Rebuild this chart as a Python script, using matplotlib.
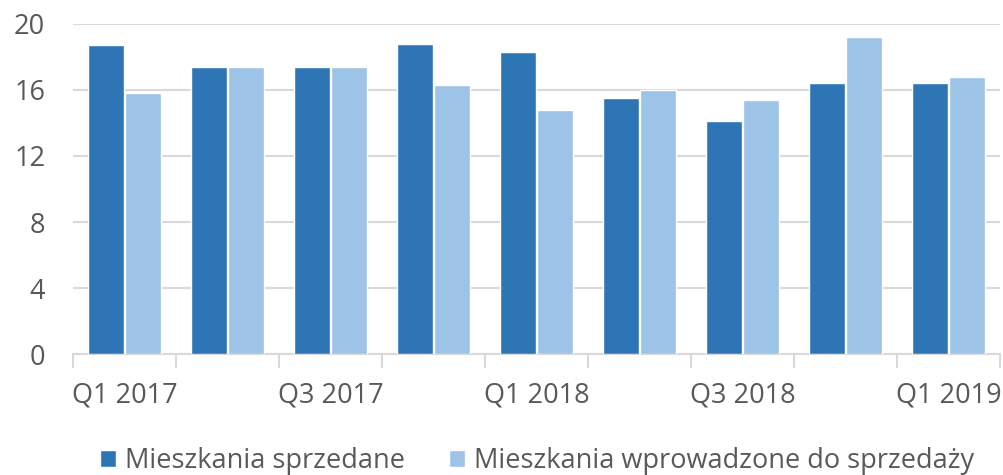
import matplotlib
matplotlib.use("Agg")
import matplotlib.pyplot as plt
import numpy as np

# quarters Q1 2017 .. Q1 2019
quarters = ["Q1 2017", "Q2 2017", "Q3 2017", "Q4 2017", "Q1 2018",
            "Q2 2018", "Q3 2018", "Q4 2018", "Q1 2019"]
sold = [18.7, 17.4, 17.4, 18.8, 18.3, 15.5, 14.1, 16.4, 16.4]
launched = [15.8, 17.4, 17.4, 16.3, 14.8, 16.0, 15.4, 19.2, 16.8]
yticks = [0, 4, 8, 12, 16, 20]

plt.rcParams['font.family'] = ['Open Sans', 'DejaVu Sans']
text_col = '#595959'
grid_col = '#d9d9d9'
fs = 19.5

fig = plt.figure(figsize=(10.04, 4.75), dpi=100)
ax = fig.add_axes([0.0727, 0.2547, 0.9233, 0.6948])

x = np.arange(len(quarters))
w = 0.345
ax.bar(x - w / 2 - 0.005, sold, w, color='#2E75B6', edgecolor='white', linewidth=1,
       label='Mieszkania sprzedane', zorder=3)
ax.bar(x + w / 2 + 0.005, launched, w, color='#9DC3E6', edgecolor='white', linewidth=1,
       label='Mieszkania wprowadzone do sprzedaży', zorder=3)

ax.set_xlim(-0.5, len(quarters) - 0.5)
ax.set_ylim(0, 20)
ax.set_yticks(yticks)
ax.set_yticklabels([str(v) for v in yticks])
ax.yaxis.grid(True, color=grid_col, linewidth=1.5, zorder=0)

# category labels only every other quarter
ax.set_xticks(x)
ax.set_xticklabels([q if i % 2 == 0 else '' for i, q in enumerate(quarters)])
ax.set_xticks(np.arange(-0.5, len(quarters)), minor=True)
ax.tick_params(axis='x', which='major', length=0, pad=20, labelsize=fs, labelcolor=text_col)
ax.tick_params(axis='x', which='minor', length=10, width=1.5, color=grid_col)
ax.tick_params(axis='y', length=0, pad=20, labelsize=fs, labelcolor=text_col)

for s in ['top', 'right', 'left']:
    ax.spines[s].set_visible(False)
ax.spines['bottom'].set_color(grid_col)
ax.spines['bottom'].set_linewidth(1.5)

leg = fig.legend(loc='center', bbox_to_anchor=(0.535, 0.03), ncol=2, frameon=False,
                 fontsize=fs, handlelength=0.6, handleheight=0.6, handletextpad=0.35,
                 columnspacing=1.6, borderaxespad=0, borderpad=0)
for t in leg.get_texts():
    t.set_color(text_col)

fig.savefig("out.png", dpi=100)
